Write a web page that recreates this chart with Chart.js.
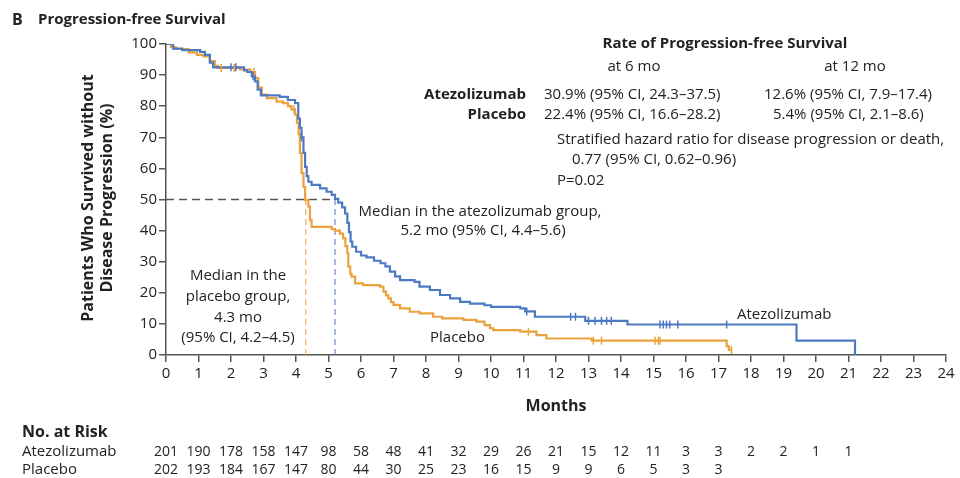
<!DOCTYPE html>
<html>
<head>
<meta charset="utf-8">
<script src="https://cdn.jsdelivr.net/npm/chart.js@4"></script>
<style>
  html, body { margin: 0; padding: 0; background: #fff; }
  canvas { display: block; }
</style>
</head>
<body>
<canvas id="km" width="960" height="478"></canvas>
<script>
// Kaplan–Meier, progression-free survival
// each pair is [month, % without progression from that month on]
const atezoSteps = [
  [0, 100], [0.22, 98.5], [0.5, 98], [1.05, 97.5], [1.2, 96.5], [1.35, 94], [1.45, 92.5],
  [2.4, 91.5], [2.5, 91], [2.64, 89.6], [2.74, 88], [2.82, 85.3], [2.92, 83.5], [3.5, 83],
  [3.75, 82], [3.97, 81], [4.07, 76], [4.12, 73], [4.17, 70], [4.23, 65], [4.28, 60.5],
  [4.33, 57.5], [4.38, 55.7], [4.48, 54.7], [4.74, 53.6], [4.94, 52.5], [5.1, 51.5],
  [5.2, 50.2], [5.3, 49], [5.42, 47.5], [5.51, 45.5], [5.58, 42.5], [5.63, 39.5],
  [5.68, 36.5], [5.73, 34.8], [5.85, 33.2], [6.0, 32], [6.17, 31.4], [6.4, 30.3],
  [6.6, 29.5], [6.75, 28.5], [6.89, 26.8], [7.05, 25.3], [7.2, 24.1], [7.65, 23.5],
  [7.8, 22], [8.12, 20.9], [8.43, 19.3], [8.74, 18.2], [9.05, 17.1], [9.35, 16.5],
  [9.8, 16], [10.0, 15.5], [10.9, 15], [11.05, 14], [11.35, 12.3], [12.9, 11],
  [14.2, 9.8], [19.4, 4.6], [21.2, 0],
];
const placeboSteps = [
  [0, 100], [0.15, 99], [0.3, 98.4], [0.7, 97.3], [0.95, 96.5], [1.15, 96], [1.35, 94.5],
  [1.5, 93], [1.6, 92.3], [2.28, 91.8], [2.6, 91], [2.74, 89], [2.84, 86], [2.95, 83.7],
  [3.1, 82.6], [3.4, 81.5], [3.6, 81], [3.75, 80], [3.86, 79], [3.97, 77.3], [4.03, 74.7],
  [4.08, 71], [4.12, 65], [4.17, 58.5], [4.23, 54], [4.28, 49.8], [4.38, 47.7],
  [4.43, 43.4], [4.48, 41.2], [5.1, 40.5], [5.2, 40], [5.35, 39], [5.45, 37.5],
  [5.52, 35], [5.58, 32.7], [5.61, 28.4], [5.67, 26], [5.71, 25.2], [5.82, 23],
  [6.07, 22.5], [6.58, 22], [6.69, 20.4], [6.77, 19.2], [6.84, 18.2], [6.92, 17],
  [7.0, 16.1], [7.2, 15], [7.5, 13.9], [7.8, 13.4], [8.22, 12.3], [8.5, 11.8],
  [9.15, 11.3], [9.55, 10.7], [9.8, 9.6], [9.97, 8.6], [10.07, 8], [10.9, 7.5],
  [11.4, 6.4], [11.7, 5.3], [13.1, 4.6], [17.25, 2.8], [17.32, 1.6], [17.4, 1.6],
];
// censored observations (months)
const atezoCensored = [2.0, 2.15, 2.68, 4.17, 11.1, 12.45, 12.6, 13.0, 13.2, 13.4, 13.56, 13.7,
  15.2, 15.3, 15.4, 15.5, 15.75, 17.25];
const placeboCensored = [1.7, 2.1, 2.7, 3.94, 11.15, 13.15, 13.4, 15.05, 15.15, 15.2, 17.4];

const medianAtezo = 5.2;
const medianPlacebo = 4.3;

// number at risk, one per month from 0
const riskAtezo = [201, 190, 178, 158, 147, 98, 58, 48, 41, 32, 29, 26, 21, 15, 12, 11, 3, 3, 2, 2, 1, 1];
const riskPlacebo = [202, 193, 184, 167, 147, 80, 44, 30, 25, 23, 16, 15, 9, 9, 6, 5, 3, 3];

const BLUE = '#4d79c3';
const ORANGE = '#eba23c';
const INK = '#222';
const AXIS = '#555';
const FONT = '"Open Sans", "Noto Sans", sans-serif';

const toPts = steps => steps.map(([x, y]) => ({ x, y }));
// y of a curve at month t (value of the last step at or before t)
function survAt(steps, t) {
  let s = steps[0][1];
  for (const [x, y] of steps) { if (x <= t) s = y; else break; }
  return s;
}
const censorPts = (steps, times) => times.map(t => ({ x: t, y: survAt(steps, t) }));

const curve = (label, steps, color) => ({
  label, data: toPts(steps), borderColor: color, borderWidth: 2.2, stepped: true,
  pointRadius: 0, fill: false, order: 1,
});
const ticks = (steps, times, color) => ({
  type: 'scatter', data: censorPts(steps, times), pointStyle: 'line', rotation: 90,
  pointRadius: 4, borderColor: color, borderWidth: 1.5, showLine: false, order: 0,
});
const dashed = (pts, color, dash, width) => ({
  data: pts, borderColor: color, borderDash: dash, borderWidth: width,
  pointRadius: 0, fill: false, order: 3,
});

function txt(ctx, s, x, y, opt = {}) {
  ctx.font = `${opt.bold ? 'bold ' : ''}${opt.size || 15}px ${FONT}`;
  ctx.fillStyle = opt.color || INK;
  ctx.textAlign = opt.align || 'left';
  ctx.textBaseline = 'middle';
  ctx.fillText(s, x, y);
}

const background = {
  id: 'background',
  beforeDraw(chart) {
    const { ctx, width, height } = chart;
    ctx.save();
    ctx.fillStyle = '#fff';
    ctx.fillRect(0, 0, width, height);
    ctx.restore();
  },
};

const labels = {
  id: 'labels',
  afterDraw(chart) {
    const { ctx } = chart;
    const xs = chart.scales.x;
    ctx.save();

    txt(ctx, 'B', 12, 20, { bold: true, size: 16 });
    txt(ctx, 'Progression-free Survival', 38, 20, { bold: true });

    // y axis title
    ctx.save();
    ctx.translate(0, 198);
    ctx.rotate(-Math.PI / 2);
    txt(ctx, 'Patients Who Survived without', 0, 88, { bold: true, align: 'center', size: 16 });
    txt(ctx, 'Disease Progression (%)', 0, 107, { bold: true, align: 'center', size: 16 });
    ctx.restore();

    txt(ctx, 'Months', (xs.left + xs.right) / 2, 406, { bold: true, size: 16, align: 'center' });

    // rate block
    txt(ctx, 'Rate of Progression-free Survival', 725, 44, { bold: true, align: 'center' });
    txt(ctx, 'at 6 mo', 634, 67, { align: 'center' });
    txt(ctx, 'at 12 mo', 855, 67, { align: 'center' });
    txt(ctx, 'Atezolizumab', 526, 95, { bold: true, align: 'right' });
    txt(ctx, 'Placebo', 526, 115, { bold: true, align: 'right' });
    txt(ctx, '30.9% (95% CI, 24.3–37.5)', 544, 95);
    txt(ctx, '22.4% (95% CI, 16.6–28.2)', 544, 115);
    txt(ctx, '12.6% (95% CI, 7.9–17.4)', 764, 95);
    txt(ctx, '5.4% (95% CI, 2.1–8.6)', 773, 115);
    txt(ctx, 'Stratified hazard ratio for disease progression or death,', 557, 140);
    txt(ctx, '0.77 (95% CI, 0.62–0.96)', 572, 160);
    txt(ctx, 'P=0.02', 557, 181);

    // medians
    txt(ctx, 'Median in the atezolizumab group,', 480, 212, { align: 'center' });
    txt(ctx, '5.2 mo (95% CI, 4.4–5.6)', 483, 231, { align: 'center' });
    txt(ctx, 'Median in the', 238, 276, { align: 'center' });
    txt(ctx, 'placebo group,', 238, 297, { align: 'center' });
    txt(ctx, '4.3 mo', 238, 318, { align: 'center' });
    txt(ctx, '(95% CI, 4.2–4.5)', 238, 338, { align: 'center' });

    txt(ctx, 'Atezolizumab', 737, 315);
    txt(ctx, 'Placebo', 430, 338);

    // number at risk
    txt(ctx, 'No. at Risk', 22, 432, { bold: true, size: 16 });
    txt(ctx, 'Atezolizumab', 22, 452);
    txt(ctx, 'Placebo', 22, 470);
    riskAtezo.forEach((n, m) => txt(ctx, String(n), xs.getPixelForValue(m), 452, { align: 'center', size: 14 }));
    riskPlacebo.forEach((n, m) => txt(ctx, String(n), xs.getPixelForValue(m), 470, { align: 'center', size: 14 }));

    ctx.restore();
  },
};

new Chart(document.getElementById('km'), {
  type: 'line',
  data: {
    datasets: [
      curve('Atezolizumab', atezoSteps, BLUE),
      curve('Placebo', placeboSteps, ORANGE),
      ticks(atezoSteps, atezoCensored, BLUE),
      ticks(placeboSteps, placeboCensored, ORANGE),
      dashed([{ x: 0, y: 50 }, { x: medianAtezo, y: 50 }], '#555', [8, 5], 1.5),
      dashed([{ x: medianPlacebo, y: 0 }, { x: medianPlacebo, y: 50 }], ORANGE, [6, 4], 1),
      dashed([{ x: medianAtezo, y: 0 }, { x: medianAtezo, y: 50 }], BLUE, [6, 4], 1),
    ],
  },
  options: {
    responsive: false,
    devicePixelRatio: 1,
    animation: false,
    layout: { padding: { top: 44, right: 14, left: 0, bottom: 0 } },
    plugins: { legend: { display: false }, tooltip: { enabled: false } },
    scales: {
      x: {
        type: 'linear', min: 0, max: 24,
        ticks: { stepSize: 1, color: INK, font: { family: FONT, size: 15 }, padding: 3, maxRotation: 0 },
        grid: { drawOnChartArea: false, tickLength: 7, color: AXIS, lineWidth: 1.5 },
        border: { color: AXIS, width: 1.5 },
        afterFit: s => { s.height = 123; },
      },
      y: {
        min: 0, max: 100,
        ticks: { stepSize: 10, color: INK, font: { family: FONT, size: 15 }, padding: 2 },
        grid: { drawOnChartArea: false, tickLength: 7, color: AXIS, lineWidth: 1.5 },
        border: { color: AXIS, width: 1.5 },
        afterFit: s => { s.width = 166; },
      },
    },
  },
  plugins: [background, labels],
});
</script>
</body>
</html>
